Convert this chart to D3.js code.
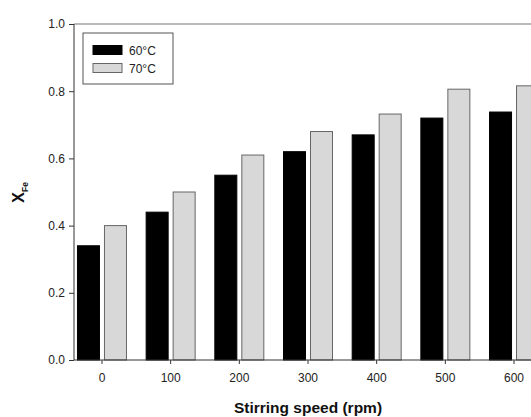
<!DOCTYPE html>
<html>
<head>
<meta charset="utf-8">
<script src="https://cdn.jsdelivr.net/npm/d3@7"></script>
<style>
  body { margin: 0; background: #fff; }
  svg { display: block; font-family: "Liberation Sans", Arial, sans-serif; }
</style>
</head>
<body>
<svg width="531" height="417"></svg>
<script>
const speeds = [0, 100, 200, 300, 400, 500, 600];
const series60 = [0.34, 0.44, 0.55, 0.62, 0.67, 0.72, 0.738];
const series70 = [0.40, 0.50, 0.61, 0.68, 0.732, 0.806, 0.816];
const seriesNames = ["60°C", "70°C"];
const yTicks = [0.0, 0.2, 0.4, 0.6, 0.8, 1.0];

const svg = d3.select("svg");
const plotLeft = 74, plotTop = 24, plotBottom = 360, plotRight = 541;

const x = d3.scaleLinear().domain([-40, 640]).range([plotLeft, plotRight]);
const y = d3.scaleLinear().domain([0, 1]).range([plotBottom, plotTop]);

const barW = 22;
const colors = ["#000", "#d8d8d8"];
const strokes = ["#000", "#666"];

// bars
[series60, series70].forEach((vals, s) => {
  svg.append("g")
    .selectAll("rect")
    .data(vals)
    .enter()
    .append("rect")
    .attr("x", (d, i) => s === 0 ? x(speeds[i]) - 2 - barW : x(speeds[i]) + 3)
    .attr("y", d => y(d))
    .attr("width", barW)
    .attr("height", d => y(0) - y(d))
    .attr("fill", colors[s])
    .attr("stroke", strokes[s])
    .attr("stroke-width", 1);
});

// frame top line
svg.append("line")
  .attr("x1", plotLeft).attr("x2", plotRight)
  .attr("y1", plotTop).attr("y2", plotTop)
  .attr("stroke", "#777").attr("stroke-width", 1.2);

// axes
const yAxis = svg.append("g")
  .attr("transform", `translate(${plotLeft},0)`)
  .call(d3.axisLeft(y).tickValues(yTicks).tickFormat(d3.format(".1f")).tickSize(5).tickPadding(4));
const xAxis = svg.append("g")
  .attr("transform", `translate(0,${plotBottom})`)
  .call(d3.axisBottom(x).tickValues(speeds).tickSize(4).tickPadding(9));

[yAxis, xAxis].forEach(a => {
  a.select(".domain").attr("stroke", "#333");
  a.selectAll(".tick line").attr("stroke", "#333");
  a.selectAll(".tick text").attr("fill", "#222").style("font-size", "12px");
});
yAxis.select(".domain").attr("d", `M0,${plotTop}V${plotBottom}`);
xAxis.select(".domain").attr("d", `M${plotLeft},0H${plotRight}`);

// axis titles
svg.append("text")
  .attr("x", 308).attr("y", 412.5)
  .attr("text-anchor", "middle")
  .style("font-size", "15.5px").style("font-weight", "bold")
  .attr("fill", "#111")
  .text("Stirring speed (rpm)");

const yl = svg.append("text")
  .attr("transform", "translate(24,192.5) rotate(-90)")
  .attr("text-anchor", "middle")
  .style("font-weight", "bold")
  .attr("fill", "#111");
yl.append("tspan").style("font-size", "16.5px").text("X");
yl.append("tspan").attr("dy", 4).style("font-size", "8.5px").text("Fe");

// legend
const lg = svg.append("g");
lg.append("rect")
  .attr("x", 83).attr("y", 33).attr("width", 90).attr("height", 51)
  .attr("fill", "#fff").attr("stroke", "#555");
seriesNames.forEach((name, i) => {
  lg.append("rect")
    .attr("x", 93).attr("y", 45.5 + i * 18).attr("width", 29).attr("height", 9)
    .attr("fill", colors[i]).attr("stroke", strokes[i]);
  lg.append("text")
    .attr("x", 129).attr("y", 55 + i * 18)
    .style("font-size", "12px").attr("fill", "#222")
    .text(name);
});
</script>
</body>
</html>
